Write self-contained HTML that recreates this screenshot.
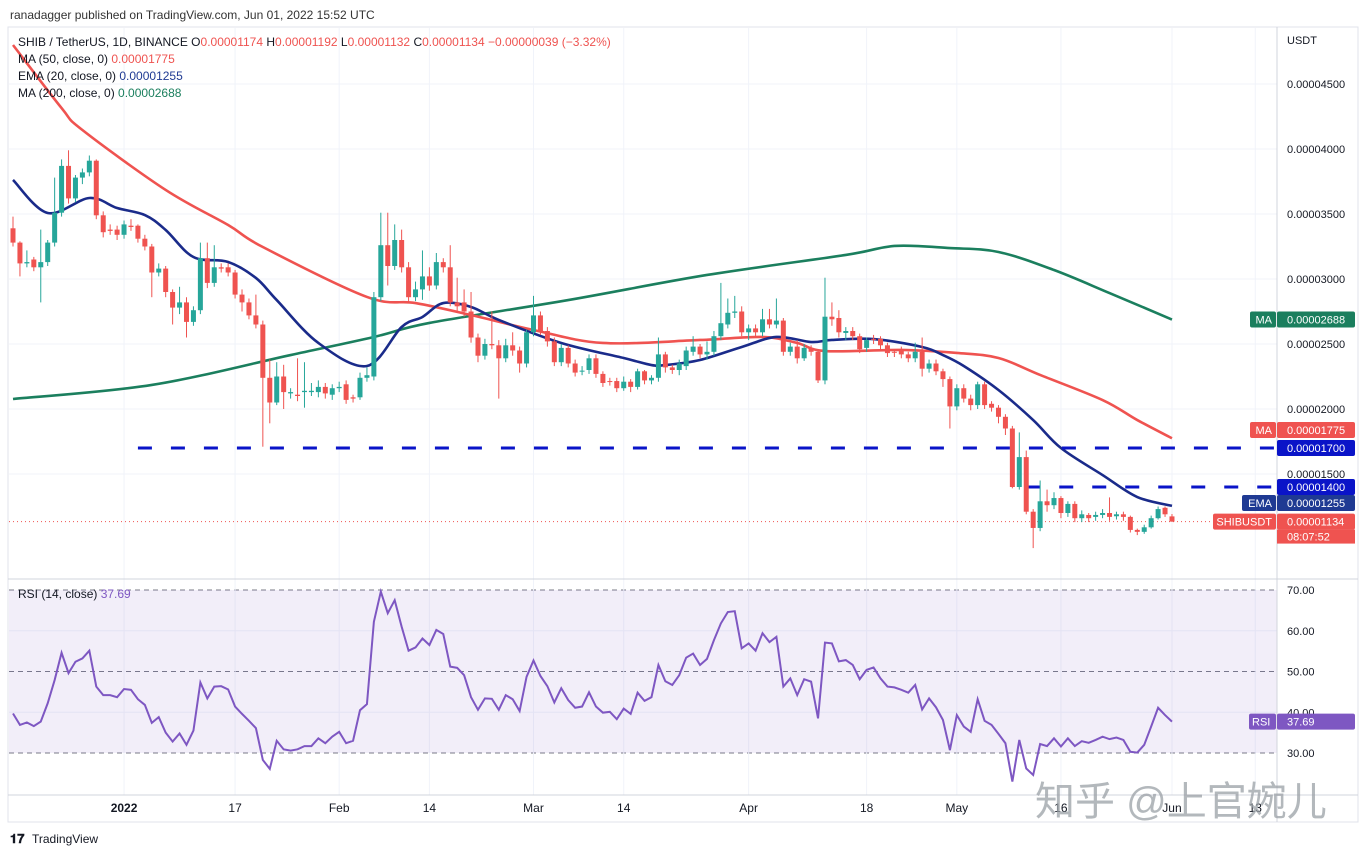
<!DOCTYPE html>
<html><head><meta charset="utf-8"><style>
html,body{margin:0;padding:0;background:#fff;}
body{width:1369px;height:857px;position:relative;overflow:hidden;font-family:"Liberation Sans","Noto Sans CJK SC",sans-serif;}
svg text{font-family:"Liberation Sans","Noto Sans CJK SC",sans-serif;}
</style></head><body>
<svg id="chart" width="1369" height="857" viewBox="0 0 1369 857" xmlns="http://www.w3.org/2000/svg">
<text x="10" y="19" font-size="12" fill="#333">ranadagger published on TradingView.com, Jun 01, 2022 15:52 UTC</text>
<rect x="8" y="27" width="1350" height="795" fill="none" stroke="#e0e3eb"/>
<g id="grid"></g>
<rect x="9" y="590" width="1268" height="163" fill="#7e57c2" fill-opacity="0.1"/>
<g id="price"></g>
<g id="rsi"></g>
<line x1="8" y1="579" x2="1358" y2="579" stroke="#d1d4dc"/>
<line x1="8" y1="795" x2="1358" y2="795" stroke="#d1d4dc"/>
<line x1="1277" y1="27" x2="1277" y2="822" stroke="#d1d4dc"/>
<g id="axes"></g>
<g font-size="12">
<text x="18" y="46" fill="#131722">SHIB / TetherUS, 1D, BINANCE <tspan fill="#131722">O</tspan><tspan fill="#ef5350">0.00001174</tspan> <tspan fill="#131722">H</tspan><tspan fill="#ef5350">0.00001192</tspan> <tspan fill="#131722">L</tspan><tspan fill="#ef5350">0.00001132</tspan> <tspan fill="#131722">C</tspan><tspan fill="#ef5350">0.00001134</tspan> <tspan fill="#ef5350">−0.00000039 (−3.32%)</tspan></text>
<text x="18" y="63" fill="#131722">MA (50, close, 0) <tspan fill="#ef5350">0.00001775</tspan></text>
<text x="18" y="80" fill="#131722">EMA (20, close, 0) <tspan fill="#1f3a93">0.00001255</tspan></text>
<text x="18" y="97" fill="#131722">MA (200, close, 0) <tspan fill="#1b7f5e">0.00002688</tspan></text>
<text x="18" y="598" fill="#131722">RSI (14, close) <tspan fill="#7e57c2">37.69</tspan></text>
</g>
<text x="1035" y="815" font-size="40" fill="#9aa0a6" fill-opacity="0.75">知乎 @上官婉儿</text>
<g>
<text x="10" y="843" font-size="13" font-weight="bold" fill="#131722">𝟏𝟕</text>
<text x="32" y="843" font-size="12" fill="#131722">TradingView</text>
</g>
</svg>
<script>
const opens=[33.9,32.8,31.2,31.5,30.9,31.3,32.8,35.1,38.7,36.2,37.8,38.2,39.1,34.9,33.8,33.8,33.4,34.1,34.1,33.1,32.5,30.5,30.8,29.0,27.8,28.2,26.7,27.6,31.6,29.7,30.9,30.9,30.5,28.8,28.2,27.2,26.5,22.4,20.5,22.5,21.2,21.1,21.3,21.3,21.3,21.7,21.1,21.6,21.9,20.9,20.9,22.4,22.5,28.6,32.6,31.0,33.0,30.9,28.6,29.2,30.2,29.5,31.3,30.9,28.2,28.2,27.5,25.5,24.1,25.0,24.9,23.9,24.9,24.5,23.5,25.9,27.2,26.0,25.2,23.6,24.7,23.5,22.9,23.0,23.9,22.7,22.15,22.15,21.6,22.1,21.7,22.9,22.2,22.4,24.2,23.2,23.0,23.3,24.4,24.8,24.2,24.4,25.6,26.5,27.4,27.5,25.9,26.2,25.9,26.9,26.5,26.8,24.4,24.8,23.9,24.7,24.4,22.2,27.1,27.0,25.85,26.0,25.6,24.7,25.4,25.4,24.9,24.4,24.5,24.2,23.9,24.4,23.1,23.5,22.9,22.3,20.2,21.6,20.8,20.3,21.9,20.4,20.1,19.4,18.5,14.0,16.3,12.1,10.85,12.9,12.6,13.15,12.0,12.7,11.6,11.85,11.7,11.85,12.0,11.75,11.9,11.7,10.7,10.55,10.9,11.6,12.4,11.74];
const closes=[32.8,31.2,31.3,30.9,31.3,32.8,35.1,38.7,36.2,37.8,38.2,39.1,34.9,33.6,33.7,33.4,34.2,34.0,33.1,32.5,30.5,30.8,29.0,27.8,28.2,26.7,27.6,31.6,29.7,30.9,30.8,30.5,28.8,28.2,27.2,26.5,22.4,20.5,22.5,21.3,21.3,21.0,21.4,21.4,21.7,21.2,21.6,21.7,20.7,20.8,22.4,22.6,28.6,32.6,31.0,33.0,30.9,28.6,29.2,30.2,29.5,31.3,30.9,28.2,27.9,27.5,25.5,24.1,25.0,24.9,23.9,24.9,24.5,23.5,25.9,27.2,26.0,25.2,23.6,24.7,23.5,22.8,22.95,23.9,22.7,22.0,22.1,21.6,22.1,21.7,22.9,22.2,22.4,24.2,23.2,23.0,23.5,24.5,24.8,24.2,24.4,25.6,26.6,27.4,27.5,25.9,26.2,25.9,26.9,26.5,26.8,24.4,24.8,23.9,24.7,24.4,22.2,27.1,26.9,25.9,26.0,25.6,24.6,25.3,25.35,24.9,24.3,24.35,24.2,23.9,24.4,23.1,23.5,22.9,22.3,20.2,21.6,20.8,20.3,21.9,20.3,20.1,19.4,18.5,14.0,16.3,12.1,10.85,12.9,12.6,13.15,12.0,12.7,11.6,11.9,11.6,11.85,12.0,11.7,11.9,11.7,10.7,10.55,10.9,11.6,12.3,11.9,11.34];
const highs=[34.8,32.9,32.2,31.7,33.8,33.0,37.8,39.2,39.9,38.0,38.5,39.5,39.2,35.2,34.2,34.1,34.5,34.6,34.2,33.4,32.7,31.2,31.0,29.2,29.4,28.6,27.9,32.8,32.8,32.6,31.2,31.2,30.7,29.2,28.5,28.8,26.8,23.8,23.6,23.4,21.6,23.9,23.6,22.0,22.2,22.0,21.9,22.1,22.2,21.1,22.8,23.2,29.0,35.1,35.1,34.2,33.8,31.3,29.8,32.2,30.9,32.0,31.6,32.6,30.1,29.2,29.0,25.8,25.4,27.5,25.3,25.4,25.9,24.8,26.1,28.7,27.5,26.3,25.5,25.0,24.9,23.8,23.3,24.2,24.2,22.9,22.4,22.4,22.5,22.3,23.1,23.0,22.6,25.5,24.4,23.4,23.8,24.8,25.6,25.0,25.2,26.0,29.7,28.5,28.7,27.9,26.5,26.5,27.7,27.7,28.5,27.0,25.1,25.3,25.0,24.9,24.6,30.1,28.2,27.6,26.3,26.3,25.8,25.5,25.7,25.6,25.1,24.6,24.8,24.4,25.1,25.5,23.8,23.8,23.1,22.5,21.9,21.9,21.1,22.1,22.1,20.6,20.3,19.6,18.7,18.2,16.8,12.3,14.5,13.8,13.6,13.3,12.9,12.9,12.2,12.0,12.1,12.3,13.2,12.1,12.1,11.8,10.8,11.1,11.8,12.5,12.5,11.92];
const lows=[32.5,30.2,30.9,30.6,28.2,31.0,32.5,34.8,35.8,35.9,37.3,37.9,34.6,33.2,33.4,33.0,33.1,33.7,32.8,32.2,28.6,30.2,28.6,26.5,27.3,25.5,26.4,27.3,29.3,29.4,30.5,30.2,28.5,27.5,26.9,26.2,17.1,18.9,20.3,20.0,20.8,20.6,20.1,21.0,20.9,20.8,20.7,21.3,20.4,20.5,20.7,22.1,22.2,28.3,29.5,30.7,30.5,28.2,28.3,28.4,29.1,29.2,30.5,27.9,27.4,27.1,25.1,23.6,23.8,24.6,20.8,23.6,24.1,22.8,23.2,25.6,25.7,24.8,23.3,23.3,23.2,22.5,22.6,22.7,22.4,21.7,21.8,21.3,21.4,21.3,21.5,21.9,21.9,22.1,22.8,22.7,22.6,23.0,24.1,23.9,23.8,24.1,25.3,26.2,27.0,25.6,25.3,25.6,25.6,26.2,26.2,24.1,24.1,23.5,23.7,24.1,22.0,21.9,26.4,25.5,25.3,25.3,24.3,24.4,25.0,24.6,24.0,24.0,23.9,23.6,23.6,22.5,22.8,22.6,21.7,18.5,19.9,20.5,19.9,20.0,20.0,19.8,18.9,18.0,13.9,13.8,11.9,9.3,10.6,12.1,12.3,11.6,11.7,11.3,11.3,11.3,11.4,11.6,11.4,11.5,11.4,10.5,10.3,10.4,10.8,11.5,11.7,11.32];
const ma200Idx=[0,20,40,52,60,80,100,120,127,135,142,150,158,167];
const ma200Val=[20.77,21.85,24.15,25.54,26.62,28.38,30.31,31.85,32.54,32.38,32.08,30.69,28.92,26.88];
const ma50Idx=[0,7,10,22,31,36,51,58,66,75,85,99,108,113,117,128,136,142,148,157,162,167];
const ma50Val=[48.0,43.15,41.46,36.85,34.15,32.46,28.62,28.15,27.23,26.08,25.08,25.31,25.54,25.08,24.46,24.54,24.31,23.92,22.62,20.69,19.15,17.75];
const emaIdx=[0,5,11,15,19,22,26,31,35,38,44,51,56,59,62,66,70,79,88,92,94,99,105,110,115,118,124,131,134,137,142,147,151,157,162,167];
const emaVal=[37.62,35.08,36.23,35.46,34.92,33.77,31.69,31.31,30.08,28.38,25.08,23.31,26.31,27.08,28.15,27.85,26.85,25.08,23.92,23.38,23.38,23.77,24.77,25.54,25.15,25.31,25.38,24.77,24.15,23.31,21.46,19.15,17.0,14.92,13.23,12.55];
const rsiVals=[39.7,36.9,37.5,36.6,37.7,42.2,47.9,54.6,49.6,52.4,53.2,55.1,46.3,44.2,44.2,43.7,45.7,45.5,43.2,41.8,37.4,38.8,35.0,32.8,34.8,32.0,35.5,47.3,43.4,46.3,46.4,45.6,41.4,39.6,37.9,36.1,28.3,26.1,33.0,30.9,30.6,30.9,31.7,31.7,33.6,32.4,34.0,35.2,32.4,33.0,40.5,42.0,62.2,69.6,64.3,67.5,61.0,55.1,55.9,58.1,56.5,60.2,59.2,51.2,50.9,49.1,43.7,40.6,43.4,43.3,40.6,44.2,43.2,40.3,48.7,52.7,48.9,46.4,42.4,45.9,43.0,41.1,41.4,44.9,41.4,39.9,40.1,38.3,40.9,39.6,44.8,42.8,43.7,51.6,47.6,46.7,49.1,53.4,54.4,51.6,53.1,57.7,61.8,64.6,64.8,55.7,56.9,55.1,59.4,57.2,58.5,46.3,48.3,44.2,48.1,47.5,38.5,57.1,56.9,52.5,52.8,51.6,48.1,50.4,51.0,48.3,46.3,46.1,45.5,44.8,46.7,40.7,43.4,41.2,38.1,30.7,39.3,36.5,35.2,43.2,37.9,36.9,34.7,32.4,23.0,33.2,26.2,24.6,32.2,31.7,33.6,31.6,33.6,31.7,32.9,32.5,33.2,34.0,33.4,33.8,33.2,30.3,30.1,32.0,36.5,41.1,39.3,37.69];
const priceTicks=[45,40,35,30,25,20,15];
const priceTickLabels=["0.00004500","0.00004000","0.00003500","0.00003000","0.00002500","0.00002000","0.00001500"];
const rsiTicks=[70,60,50,40,30];
const rsiTickLabels=["70.00","60.00","50.00","40.00","30.00"];
const dateIdx=[16,32,47,60,75,88,106,123,136,151,167,179];
const dateLabels=["2022","17","Feb","14","Mar","14","Apr","18","May","16","Jun","13"];
const supportLevels=[17.0,14.0];
const supportStart=[18,146];

const NS="http://www.w3.org/2000/svg";
const X=i=>13+i*6.94;
const PY=p=>84+(45-p)*13;
const RY=r=>590+(70-r)*4.075;
function mk(tag,attrs,parent){const e=document.createElementNS(NS,tag);for(const k in attrs)e.setAttribute(k,attrs[k]);parent.appendChild(e);return e;}
const grid=document.getElementById('grid'),price=document.getElementById('price'),rsiG=document.getElementById('rsi'),axes=document.getElementById('axes');

priceTicks.forEach((t,k)=>{
  const l=mk('line',{x1:9,x2:1277,y1:PY(t),y2:PY(t),stroke:'#f0f3fa'},grid);
  
  
  const tx=mk('text',{x:1287,y:PY(t)+4,'font-size':11,fill:'#131722'},axes);tx.textContent=priceTickLabels[k];
  
  
});
rsiTicks.forEach((t,k)=>{
  const dashed=(t===70||t===50||t===30);
  const l=mk('line',{x1:9,x2:1277,y1:RY(t),y2:RY(t),stroke:dashed?'#787b86':'#f0f3fa','stroke-dasharray':dashed?'5,4':'none'},grid);
  
  
  const tx=mk('text',{x:1287,y:RY(t)+4,'font-size':11,fill:'#131722'},axes);tx.textContent=rsiTickLabels[k];
  
  
});
dateIdx.forEach((d,k)=>{
  const l=mk('line',{x1:X(d),x2:X(d),y1:28,y2:795,stroke:'#f0f3fa'},grid);
  
  
  const tx=mk('text',{x:X(d),y:812,'font-size':12,fill:'#131722','text-anchor':'middle','font-weight':k===0?'bold':'normal'},axes);tx.textContent=dateLabels[k];
  
  
});
const usdt=mk('text',{x:1287,y:44,'font-size':11,fill:'#131722'},axes);usdt.textContent='USDT';



const lp=mk('line',{x1:9,x2:1277,y1:PY(closes[closes.length-1]),y2:PY(closes[closes.length-1]),stroke:'#ef5350','stroke-dasharray':'1,3'},price);



function smoothPath(pts){
  let d='M'+pts[0][0]+','+pts[0][1];
  for(let k=0;k<pts.length-1;k++){
    const p0=pts[Math.max(0,k-1)],p1=pts[k],p2=pts[k+1],p3=pts[Math.min(pts.length-1,k+2)];
    const c1x=p1[0]+(p2[0]-p0[0])/6,c1y=p1[1]+(p2[1]-p0[1])/6;
    const c2x=p2[0]-(p3[0]-p1[0])/6,c2y=p2[1]-(p3[1]-p1[1])/6;
    d+=' C'+c1x+','+c1y+' '+c2x+','+c2y+' '+p2[0]+','+p2[1];
  }
  return d;
}
function curve(idx,vals,color,name){
  const p=mk('path',{d:smoothPath(idx.map((d,k)=>[X(d),PY(vals[k])])),fill:'none',stroke:color,'stroke-width':2.6,'stroke-linejoin':'round'},price);
  
  
}
const clip=mk('clipPath',{id:'pc'},document.getElementById('chart'));mk('rect',{x:9,y:28,width:1268,height:550},clip);
price.setAttribute('clip-path','url(#pc)');
curve(ma200Idx,ma200Val,'#1b7f5e','ma200-line');
curve(ma50Idx,ma50Val,'#ef5350','ma50-line');
curve(emaIdx,emaVal,'#1a2b8a','ema20-line');

supportLevels.forEach((s,k)=>{
  const l=mk('line',{x1:X(supportStart[k]),x2:1277,y1:PY(s),y2:PY(s),stroke:'#0a14c8','stroke-width':3,'stroke-dasharray':'14,19'},price);
  
  
});

closes.forEach((c,i)=>{
  const o=opens[i],up=c>=o,col=up?'#26a69a':'#ef5350';
  const g=mk('g',{},price);
  
  
  mk('line',{x1:X(i),x2:X(i),y1:PY(highs[i]),y2:PY(lows[i]),stroke:col,'stroke-width':1},g);
  const top=PY(Math.max(o,c)),h=Math.max(1,Math.abs(PY(o)-PY(c)));
  mk('rect',{x:X(i)-2.5,y:top,width:5,height:h,fill:col},g);
});

const rl=mk('polyline',{points:rsiVals.map((r,i)=>X(i)+','+RY(r)).join(' '),fill:'none',stroke:'#7e57c2','stroke-width':2},rsiG);



function badge(y,label,val,bg,lx,name){
  const g=mk('g',{},axes);
  
  
  if(label){mk('rect',{x:lx,y:y-8,width:1276-lx,height:16,fill:bg,rx:2},g);const t=mk('text',{x:1272,y:y+4,'font-size':11,fill:'#fff','text-anchor':'end'},g);t.textContent=label;}
  mk('rect',{x:1277,y:y-8,width:78,height:16,fill:bg,rx:2},g);
  const t2=mk('text',{x:1287,y:y+4,'font-size':11,fill:'#fff'},g);t2.textContent=val;
  return g;
}
badge(PY(ma200Val[ma200Val.length-1]),'MA','0.00002688','#1b7f5e',1250,'ma200-badge');
badge(430,'MA','0.00001775','#ef5350',1250,'ma50-badge');
badge(PY(supportLevels[0]),null,'0.00001700','#0a14c8',0,'level-1700-badge');
badge(PY(supportLevels[1]),null,'0.00001400','#0a14c8',0,'level-1400-badge');
badge(503,'EMA','0.00001255','#1f3a93',1242,'ema-badge');
const lb=badge(PY(closes[closes.length-1]),'SHIBUSDT','0.00001134','#ef5350',1213,'last-price-badge');
mk('rect',{x:1277,y:PY(closes[closes.length-1])+8,width:78,height:14,fill:'#ef5350'},lb);
const cd=mk('text',{x:1287,y:PY(closes[closes.length-1])+19,'font-size':11,fill:'#fff'},lb);cd.textContent='08:07:52';
const rb=mk('g',{},axes);


const ry=RY(rsiVals[rsiVals.length-1]);
mk('rect',{x:1249,y:ry-8,width:27,height:16,fill:'#7e57c2',rx:2},rb);
let t=mk('text',{x:1252,y:ry+4,'font-size':11,fill:'#fff'},rb);t.textContent='RSI';
mk('rect',{x:1277,y:ry-8,width:78,height:16,fill:'#7e57c2',rx:2},rb);
t=mk('text',{x:1287,y:ry+4,'font-size':11,fill:'#fff'},rb);t.textContent='37.69';
</script>
</body></html>
